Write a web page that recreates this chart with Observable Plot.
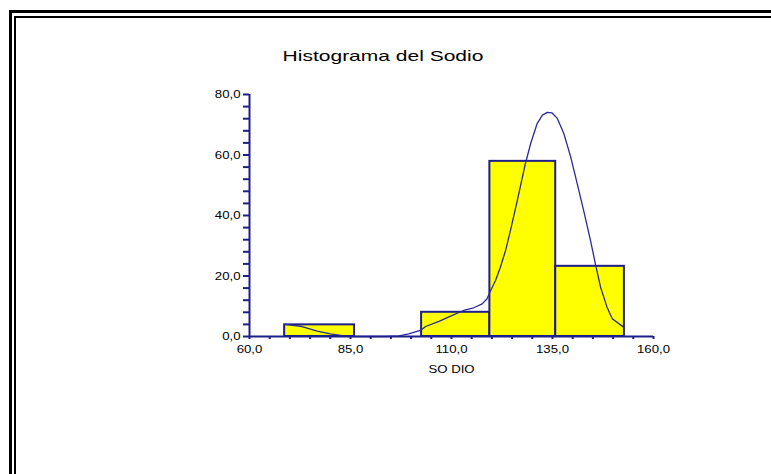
<!DOCTYPE html>
<html><head><meta charset="utf-8">
<script src="https://cdn.jsdelivr.net/npm/d3@7"></script>
<script src="https://cdn.jsdelivr.net/npm/@observablehq/plot@0.6"></script>
<style>
body{margin:0;background:#fff;}
#wrap{position:relative;width:771px;height:474px;overflow:hidden;background:#fff;}
.frame1{position:absolute;left:9px;top:10px;width:800px;height:500px;border-left:3px solid #000;border-top:3px solid #000;}
.frame2{position:absolute;left:14px;top:16px;width:800px;height:500px;border-left:2px solid #000;border-top:2px solid #000;}
#title{position:absolute;left:382.8px;top:48px;font:15px/15px "Liberation Sans",Arial,sans-serif;white-space:nowrap;transform:translateX(-50%) scaleX(1.4);color:#000;}
#chart{position:absolute;left:0;top:0;}
</style></head>
<body><div id="wrap"><div class="frame1"></div><div class="frame2"></div><div id="chart"></div><div id="title"></div></div>
<script>
const titleText = "Histograma del Sodio";
const xLabel = "SO DIO";
const binStart = [68.7, 86.0, 102.6, 119.5, 135.8];
const binEnd = [86.0, 102.6, 119.5, 135.8, 152.8];
const binPercent = [3.85, 0, 8.0, 57.9, 23.2];
const curveX = [68.9, 73.0, 76.8, 80.0, 83.0, 85.0, 93.7, 97.0, 99.4, 102.3, 103.6, 106.9, 110.2, 113.0, 115.5, 117.6, 118.8, 119.7, 120.9, 122.1, 123.4, 124.6, 126.3, 128.3, 129.6, 131.2, 132.5, 133.7, 134.9, 136.2, 137.8, 139.5, 141.1, 142.7, 144.4, 145.6, 146.9, 148.5, 149.8, 152.6];
const curveY = [4.0, 3.3, 1.8, 0.9, 0.3, 0, 0, 0.2, 0.9, 2.0, 3.3, 5.0, 7.0, 8.6, 9.5, 10.8, 12.5, 15.2, 18.5, 22.9, 28.5, 35.1, 45.0, 57.2, 63.8, 70.4, 73.2, 74.1, 73.9, 72.1, 67.1, 59.4, 50.6, 41.7, 31.8, 24.1, 16.3, 9.7, 5.9, 3.1];
const xTicks = [60, 65, 70, 75, 80, 85, 90, 95, 100, 105, 110, 115, 120, 125, 130, 135, 140, 145, 150, 155, 160];
const xTickLabels = [60, 85, 110, 135, 160];
const yTicks = [0, 4, 8, 12, 16, 20, 24, 28, 32, 36, 40, 44, 48, 52, 56, 60, 64, 68, 72, 76, 80];
const yTickLabels = [0, 20, 40, 60, 80];

const navy = "#1e1e8a";
const fmt = d => d.toFixed(1).replace(".", ",");
const bins = binStart.map((s, i) => ({x1: s, x2: binEnd[i], y: binPercent[i]})).filter(d => d.y > 0);
const curve = curveX.map((x, i) => ({x, y: curveY[i]}));

document.getElementById("title").textContent = titleText;

const chart = Plot.plot({
  width: 771, height: 474,
  marginLeft: 249, marginRight: 118, marginTop: 94, marginBottom: 138,
  x: {domain: [60, 160]},
  y: {domain: [0, 80]},
  style: {fontFamily: '"Liberation Sans", Arial, sans-serif', fontSize: "11px", color: "#000", background: "transparent", overflow: "visible"},
  marks: [
    Plot.rectY(bins, {x1: "x1", x2: "x2", y: "y", fill: "#ffff00", stroke: navy, strokeWidth: 2}),
    Plot.line(curve, {x: "x", y: "y", stroke: "#2a2a9c", strokeWidth: 1.3}),
    Plot.axisY({ticks: yTicks, tickFormat: d => yTickLabels.includes(d) ? fmt(d) : "", tickSize: 6, tickPadding: 3, stroke: navy, strokeWidth: 2, fill: "#000", label: null}),
    Plot.axisX({ticks: xTicks, tickFormat: d => xTickLabels.includes(d) ? fmt(d) : "", tickSize: 3, tickPadding: 6, stroke: navy, strokeWidth: 2, fill: "#000", label: xLabel, labelAnchor: "center", labelArrow: "none", labelOffset: 36}),
    Plot.ruleX([60], {stroke: navy, strokeWidth: 2}),
    Plot.ruleY([0], {stroke: navy, strokeWidth: 2})
  ]
});
document.getElementById("chart").append(chart);
d3.select(chart).selectAll("text").each(function() {
  const w = this.getComputedTextLength();
  if (w > 0) {
    this.setAttribute("textLength", w * 1.2);
    this.setAttribute("lengthAdjust", "spacingAndGlyphs");
  }
});
</script>
</body></html>
